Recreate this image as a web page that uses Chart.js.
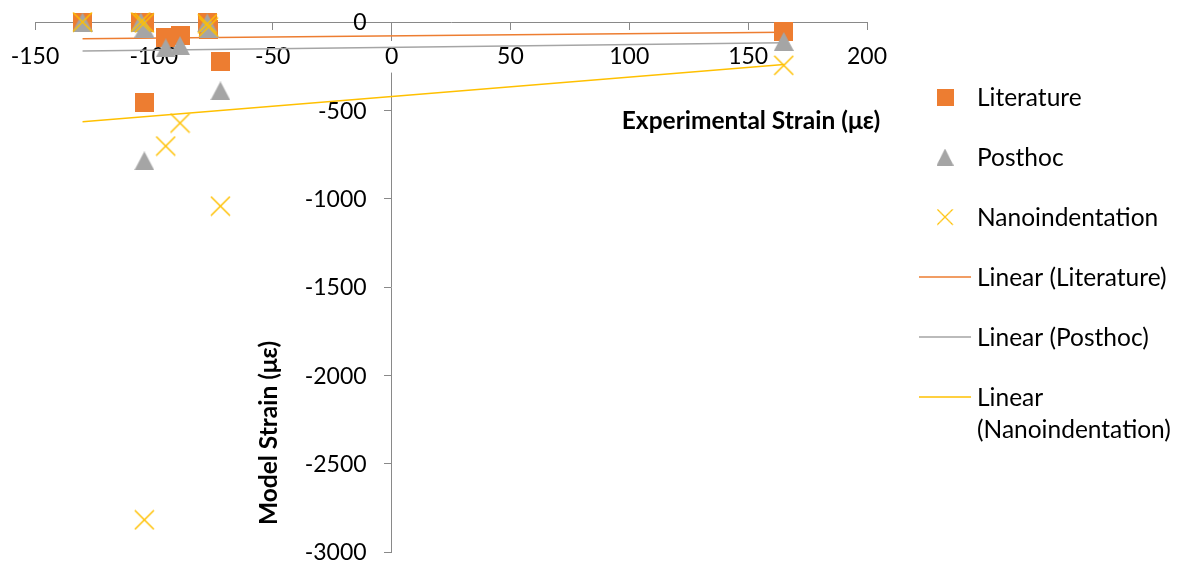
<!DOCTYPE html>
<html>
<head>
<meta charset="utf-8">
<title>Model vs Experimental Strain</title>
<script src="https://cdn.jsdelivr.net/npm/chart.js@4/dist/chart.umd.min.js"></script>
<style>
  html, body { margin: 0; padding: 0; background: #ffffff; }
  #wrap { position: relative; width: 1184px; height: 565px; }
</style>
</head>
<body>
<div id="wrap"><canvas id="chart" width="1184" height="565"></canvas></div>
<script>
// Experimental strain at each gauge (με)
const experimental = [-130, -105.5, -104, -104, -95, -89, -77.5, -77, -72, 165];
// Model strain at the same gauges for each set of material properties (με)
const literature = [0, 0, 0, -453, -88, -78, -5, -40, -222, -51];
const posthoc = [0, 0, -35, -786, -147, -134, -5, -35, -390, -110];
const nanoindentation = [0, 0, -5, -2818, -702, -572, -10, -28, -1042, -245];

// Linear trend of each series at the lowest and highest experimental strain
const trendStart = [-95, -164, -564];
const trendEnd = [-58, -117, -240];

// Axis ticks
const xTickValues = [-150, -100, -50, 0, 50, 100, 150, 200];
const yTickValues = [-3000, -2500, -2000, -1500, -1000, -500, 0];

const seriesNames = ['Literature', 'Posthoc', 'Nanoindentation'];
const trendNames = ['Linear (Literature)', 'Linear (Posthoc)', ['Linear', '(Nanoindentation)']];
const seriesColors = ['#ED7D31', '#A5A5A5', '#FFC000'];
const seriesValues = [literature, posthoc, nanoindentation];

const axisColor = '#898989';
const textColor = '#000000';
const fontFamily = "Lato, 'DejaVu Sans', sans-serif";
const tickFontSize = 23;
const legendFontSize = 24.5;

// Marker images: filled square, filled triangle and a thin diagonal cross
function makeMarker(kind, color) {
  const c = document.createElement('canvas');
  const ctx = c.getContext('2d');
  if (kind === 'square') {
    c.width = 19; c.height = 19;
    ctx.fillStyle = color;
    ctx.fillRect(0, 0, 19, 19);
  } else if (kind === 'triangle') {
    c.width = 20; c.height = 19;
    ctx.fillStyle = color;
    ctx.beginPath();
    ctx.moveTo(10, 0);
    ctx.lineTo(20, 19);
    ctx.lineTo(0, 19);
    ctx.closePath();
    ctx.fill();
  } else {
    c.width = 21; c.height = 21;
    ctx.strokeStyle = color;
    ctx.lineWidth = 1.5;
    ctx.beginPath();
    ctx.moveTo(1, 1); ctx.lineTo(20, 20);
    ctx.moveTo(20, 1); ctx.lineTo(1, 20);
    ctx.stroke();
  }
  return c;
}
const markerKinds = ['square', 'triangle', 'cross'];
const markers = markerKinds.map((k, i) => makeMarker(k, seriesColors[i]));

const xMin = Math.min(...experimental);
const xMax = Math.max(...experimental);

const pointSets = seriesValues.map((vals, i) => ({
  type: 'scatter',
  label: seriesNames[i],
  data: experimental.map((x, j) => ({ x: x, y: vals[j] })),
  pointStyle: markers[i],
  pointRadius: 10,
  pointHoverRadius: 10,
  backgroundColor: seriesColors[i],
  borderColor: seriesColors[i],
  clip: false,
  order: 3 - i
}));

const trendSets = trendStart.map((v, i) => ({
  type: 'line',
  label: Array.isArray(trendNames[i]) ? trendNames[i].join(' ') : trendNames[i],
  data: [{ x: xMin, y: v }, { x: xMax, y: trendEnd[i] }],
  borderColor: seriesColors[i],
  borderWidth: 1.5,
  pointRadius: 0,
  fill: false,
  showLine: true,
  clip: false,
  order: 6 - i
}));

// Keep the plot area fixed by the layout padding alone
const noScalePadding = s => {
  s.paddingLeft = 0; s.paddingRight = 0; s.paddingTop = 0; s.paddingBottom = 0;
};

// Titles, y tick labels and legend drawn on the canvas
const decorations = {
  id: 'decorations',
  beforeDatasetsDraw(chart) {
    const ctx = chart.ctx;
    const ys = chart.scales.y;
    const xs = chart.scales.x;
    const labelRight = xs.getPixelForValue(0) - 25;
    ctx.save();
    ctx.fillStyle = textColor;
    ctx.font = `${tickFontSize}px ${fontFamily}`;
    ctx.textAlign = 'right';
    ctx.textBaseline = 'middle';
    yTickValues.forEach(v => {
      ctx.fillText(String(v), labelRight, ys.getPixelForValue(v) + 1);
    });
    ctx.restore();
  },
  afterDraw(chart) {
    const ctx = chart.ctx;
    ctx.save();
    ctx.fillStyle = textColor;

    // axis titles
    ctx.font = `bold ${legendFontSize}px ${fontFamily}`;
    ctx.textAlign = 'center';
    ctx.textBaseline = 'middle';
    ctx.fillText('Experimental Strain (με)', 751, 121);
    ctx.save();
    ctx.translate(269, 433);
    ctx.rotate(-Math.PI / 2);
    ctx.fillText('Model Strain (με)', 0, 0);
    ctx.restore();

    // legend
    const markerX = 945;
    const textX = 977;
    const rowGap = 60;
    let rowY = 97;
    ctx.font = `${legendFontSize}px ${fontFamily}`;
    ctx.textAlign = 'left';
    ctx.textBaseline = 'middle';
    seriesNames.forEach((name, i) => {
      ctx.drawImage(markers[i], markerX - 8.5, rowY - 8.5, 17, 17);
      ctx.fillText(name, textX, rowY + 1);
      rowY += rowGap;
    });
    trendNames.forEach((name, i) => {
      ctx.strokeStyle = seriesColors[i];
      ctx.lineWidth = 1.5;
      ctx.beginPath();
      ctx.moveTo(919, rowY);
      ctx.lineTo(971, rowY);
      ctx.stroke();
      const lines = Array.isArray(name) ? name : [name];
      lines.forEach((ln, k) => ctx.fillText(ln, textX, rowY + 1 + k * 32));
      rowY += rowGap;
    });
    ctx.restore();
  }
};

new Chart(document.getElementById('chart'), {
  type: 'scatter',
  data: { datasets: pointSets.concat(trendSets) },
  options: {
    responsive: false,
    animation: false,
    devicePixelRatio: 1,
    layout: { padding: { left: 35, right: 317, top: 22, bottom: 13 } },
    plugins: {
      legend: { display: false },
      tooltip: { enabled: false },
      title: { display: false }
    },
    scales: {
      x: {
        type: 'linear',
        position: { y: 0 },
        min: xTickValues[0],
        max: xTickValues[xTickValues.length - 1],
        afterBuildTicks: s => { s.ticks = xTickValues.map(v => ({ value: v })); },
        afterFit: noScalePadding,
        grid: { display: true, drawOnChartArea: false, drawTicks: true, tickLength: 7, color: axisColor, lineWidth: 1 },
        border: { display: true, color: axisColor, width: 1, z: -1 },
        ticks: {
          color: textColor,
          font: { family: fontFamily, size: tickFontSize },
          padding: 14,
          maxRotation: 0,
          autoSkip: false,
          showLabelBackdrop: true,
          backdropColor: '#ffffff',
          backdropPadding: 2,
          callback: v => String(v)
        }
      },
      y: {
        type: 'linear',
        position: { x: 0 },
        min: yTickValues[0],
        max: yTickValues[yTickValues.length - 1],
        afterBuildTicks: s => { s.ticks = yTickValues.map(v => ({ value: v })); },
        afterFit: noScalePadding,
        grid: { display: true, drawOnChartArea: false, drawTicks: true, tickLength: 7, color: axisColor, lineWidth: 1 },
        border: { display: true, color: axisColor, width: 1, z: -1 },
        ticks: { display: false }
      }
    }
  },
  plugins: [decorations]
});
</script>
</body>
</html>
